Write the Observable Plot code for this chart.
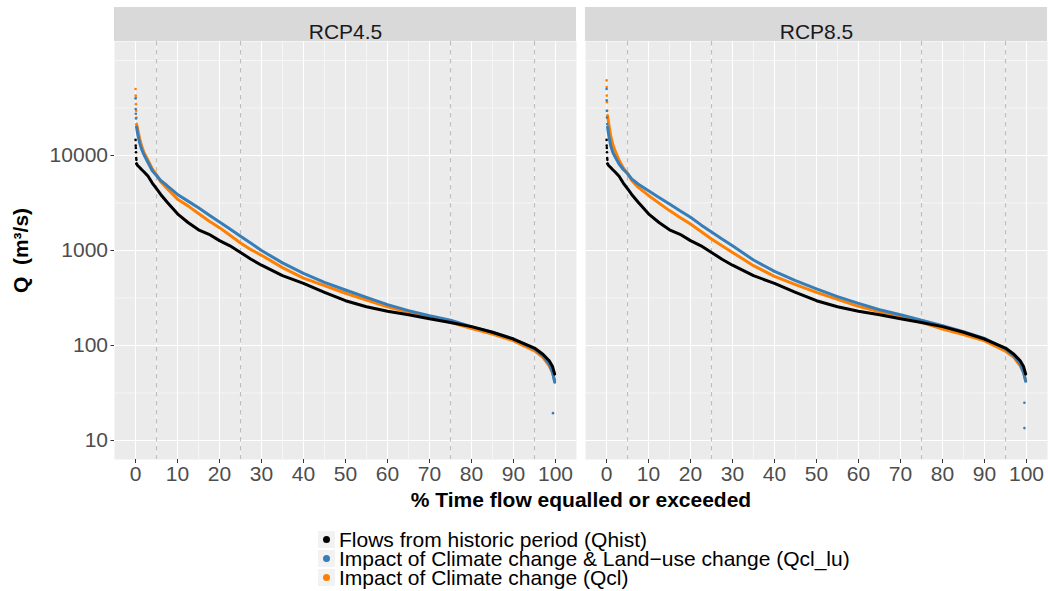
<!DOCTYPE html>
<html><head><meta charset="utf-8">
<script src="https://cdn.jsdelivr.net/npm/d3@7"></script>
<script src="https://cdn.jsdelivr.net/npm/@observablehq/plot@0.6"></script>
<style>
body{margin:0;background:#fff;font-family:"Liberation Sans",Arial,Helvetica,sans-serif;}
#chart{width:1048px;height:591px;position:relative;overflow:hidden;background:#fff;}
#chart svg{position:absolute;left:0;top:0;}
#xtitle{position:absolute;left:113px;width:936px;top:489px;text-align:center;font-weight:bold;font-size:21px;line-height:22px;color:#000;}
#legend{position:absolute;left:318px;top:530px;}
.row{height:19px;line-height:19px;font-size:21px;color:#000;white-space:nowrap;display:flex;align-items:center;}
.key{display:inline-block;width:17px;height:17px;background:#F2F2F2;position:relative;margin-right:4px;}
.dot{position:absolute;left:5px;top:5px;width:7px;height:7px;border-radius:50%;}
g[aria-label="y-axis label"] text{font-weight:bold;fill:#000;font-size:21px;}
</style></head><body><div id="chart"></div><script>
// ---- data ----
const facets = ["RCP4.5", "RCP8.5"];
const seriesNames = [
  "Flows from historic period (Qhist)",
  "Impact of Climate change & Land\u2212use change (Qcl_lu)",
  "Impact of Climate change (Qcl)"
];
const seriesColors = ["#000000", "#377EB8", "#FF7F00"];

// % time flow equalled or exceeded
const pct = [0.25, 0.5, 1, 1.5, 2, 3, 4, 5, 6, 7.5, 10, 12.5, 15, 17.5, 20, 22.5, 25, 27.5, 30, 35,
             40, 45, 50, 55, 60, 65, 70, 75, 80, 85, 90, 95, 97, 98.5, 99.3, 99.8];
// Q (m3/s)
const qHist  = [8200, 7850, 7480, 7080, 6740, 6040, 5130, 4470, 3890, 3240, 2430, 1970, 1650, 1480, 1270, 1120, 955, 810, 700, 543,
                451, 363, 296, 256, 229, 211, 191, 175, 158, 138, 117, 94, 81, 69, 60, 50];
const qClu45 = [19950, 17000, 13500, 11500, 10230, 8380, 6920, 6170, 5460, 4830, 3890, 3310, 2820, 2370, 2000, 1680, 1410, 1190, 1000, 741,
                575, 462, 384, 321, 269, 233, 206, 185, 158, 138, 117, 92, 78, 64, 52, 41];
const qCl45  = [21400, 19000, 15000, 12400, 10800, 8850, 7240, 6250, 5300, 4500, 3470, 2950, 2450, 2040, 1740, 1445, 1200, 1020, 890, 661,
                513, 427, 355, 301, 256, 224, 198, 175, 151, 132, 112, 88, 75, 61, 52, 43];
const qClu85 = [19950, 16600, 12700, 10800, 9770, 8130, 7130, 6460, 5680, 5010, 4260, 3620, 3090, 2620, 2240, 1860, 1570, 1320, 1120, 794,
                603, 482, 394, 327, 278, 238, 211, 185, 162, 140, 119, 92, 78, 64, 52, 42];
const qCl85  = [26300, 21900, 16200, 13060, 11300, 8910, 7410, 6460, 5460, 4650, 3800, 3150, 2630, 2230, 1900, 1585, 1320, 1120, 955, 692,
                535, 437, 363, 306, 258, 227, 201, 175, 149, 130, 112, 87, 75, 61, 52, 43];

// highest flows (isolated points at the start of the curves)
const peakPct    = [0.02, 0.05, 0.08, 0.12, 0.17, 0.21];
const peakHist   = [14600, 12700, 12000, 10800, 9400, 9000];
const peakClu45  = [39800, 30900, 27500, 24500];
const peakCl45   = [50100, 42700, 40700, 34700, 29500, 25100];
const peakClu85  = [50100, 38000, 29500, 25100, 21400];
const peakCl85   = [61700, 52500, 42700, 36300, 29500];

// lowest flows (isolated points)
const lowPct45 = [99.4];       const lowClu45 = [19.4];
const lowPct85 = [99.5, 99.5]; const lowClu85 = [25, 13.5];

// axes
const xTicks = [0, 10, 20, 30, 40, 50, 60, 70, 80, 90, 100];
const xMinor = [5, 15, 25, 35, 45, 55, 65, 75, 85, 95];
const yTicks = [10, 100, 1000, 10000];
const yMinor = [10 ** 1.5, 10 ** 2.5, 10 ** 3.5, 10 ** 4.5, 10 ** 5];
const refLines = [5, 25, 75, 95];

// ---- build tables ----
function rows(facet, series, xs, ys) {
  return ys.map((q, i) => ({facet, series, pct: xs[i], q}));
}
const curves = {
  hist: [...rows("RCP4.5", seriesNames[0], pct, qHist), ...rows("RCP8.5", seriesNames[0], pct, qHist)],
  clu:  [...rows("RCP4.5", seriesNames[1], pct, qClu45), ...rows("RCP8.5", seriesNames[1], pct, qClu85)],
  cl:   [...rows("RCP4.5", seriesNames[2], pct, qCl45), ...rows("RCP8.5", seriesNames[2], pct, qCl85)]
};
const points = {
  hist: [...rows("RCP4.5", seriesNames[0], peakPct, peakHist), ...rows("RCP8.5", seriesNames[0], peakPct, peakHist)],
  clu:  [...rows("RCP4.5", seriesNames[1], peakPct, peakClu45), ...rows("RCP8.5", seriesNames[1], peakPct, peakClu85),
         ...rows("RCP4.5", seriesNames[1], lowPct45, lowClu45), ...rows("RCP8.5", seriesNames[1], lowPct85, lowClu85)],
  cl:   [...rows("RCP4.5", seriesNames[2], peakPct, peakCl45), ...rows("RCP8.5", seriesNames[2], peakPct, peakCl85)]
};

const lineOpts = {fx: "facet", x: "pct", y: "q", stroke: "series", strokeWidth: 3, z: "series"};
const dotOpts = {fx: "facet", x: "pct", y: "q", fill: "series", r: 1.3};

const plot = Plot.plot({
  width: 1048,
  height: 490,
  marginTop: 41,
  marginBottom: 31,
  marginLeft: 113,
  marginRight: 0,
  style: {fontFamily: "'Liberation Sans', Arial, Helvetica, sans-serif", fontSize: "21px", background: "white"},
  fx: {domain: facets, padding: 0.019, label: null, axis: null},
  x: {domain: [-5, 105], axis: null},
  y: {type: "log", domain: [10 ** 0.8, 10 ** 5.2], axis: null},
  color: {domain: seriesNames, range: seriesColors},
  marks: [
    Plot.frame({fill: "#EBEBEB", stroke: null}),
    Plot.rect(facets, {fx: d => d, fill: "#D9D9D9", insetTop: -34, insetBottom: 418}),
    Plot.text(facets, {fx: d => d, text: d => d, frameAnchor: "top", dy: -17, fontSize: 21, fill: "#1A1A1A"}),
    Plot.gridY(yMinor, {stroke: "white", strokeOpacity: 1, strokeWidth: 0.55}),
    Plot.gridX(xMinor, {stroke: "white", strokeOpacity: 1, strokeWidth: 0.55}),
    Plot.gridY(yTicks, {stroke: "white", strokeOpacity: 1, strokeWidth: 1.1}),
    Plot.gridX(xTicks, {stroke: "white", strokeOpacity: 1, strokeWidth: 1.1}),
    Plot.ruleX(refLines, {stroke: "#BDBDBD", strokeWidth: 1.1, strokeDasharray: "4.5,4.5"}),
    Plot.line(curves.cl, lineOpts),
    Plot.dot(points.cl, dotOpts),
    Plot.line(curves.clu, lineOpts),
    Plot.dot(points.clu, dotOpts),
    Plot.line(curves.hist, lineOpts),
    Plot.dot(points.hist, dotOpts),
    Plot.axisX(xTicks, {tickSize: 4, tickPadding: 3, fontSize: 21, stroke: "#333333", fill: "#4D4D4D", label: null}),
    Plot.axisY(yTicks, {tickSize: 3.5, tickPadding: 3, fontSize: 21, stroke: "#333333", fill: "#4D4D4D",
      tickFormat: d => String(d), label: "Q\u00a0\u00a0(m\u00b3/s)", labelAnchor: "center", labelArrow: "none", labelOffset: 101})
  ]
});

const chart = document.getElementById("chart");
chart.appendChild(plot);

const xt = document.createElement("div");
xt.id = "xtitle";
xt.textContent = "% Time flow equalled or exceeded";
chart.appendChild(xt);

const legend = document.createElement("div");
legend.id = "legend";
seriesNames.forEach((name, i) => {
  const row = document.createElement("div");
  row.className = "row";
  const key = document.createElement("span");
  key.className = "key";
  const dot = document.createElement("span");
  dot.className = "dot";
  dot.style.background = seriesColors[i];
  key.appendChild(dot);
  row.appendChild(key);
  row.appendChild(document.createTextNode(name));
  legend.appendChild(row);
});
chart.appendChild(legend);
</script></body></html>
